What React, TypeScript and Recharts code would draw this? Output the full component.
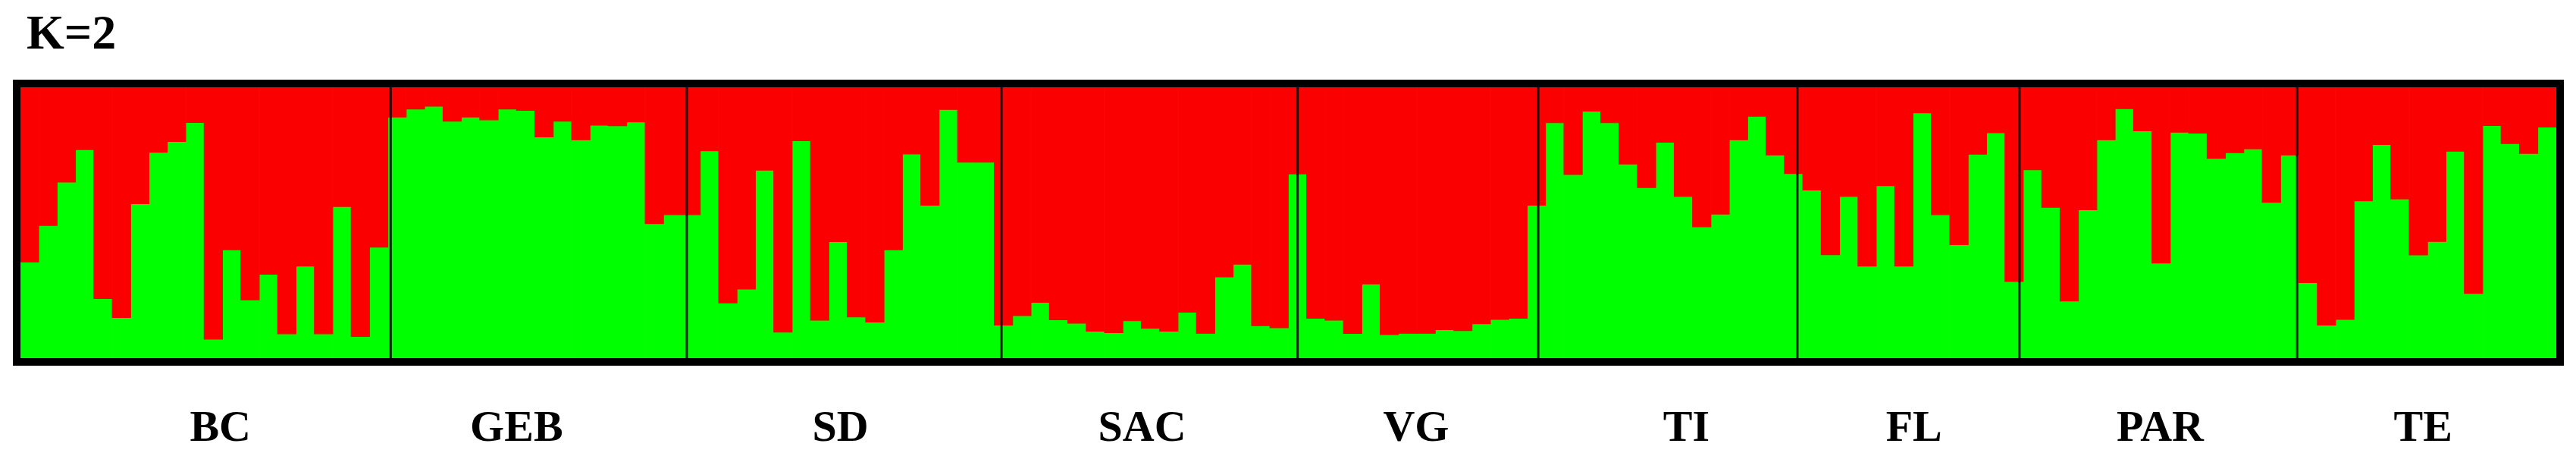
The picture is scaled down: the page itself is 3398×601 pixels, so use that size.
import React from 'react';
import { BarChart, Bar, XAxis, YAxis, ReferenceLine } from 'recharts';

// membership in cluster 1 (green) per individual; cluster 2 (red) is the rest
const bc = [0.355, 0.49, 0.65, 0.77, 0.22, 0.15, 0.57, 0.76, 0.8, 0.87, 0.07, 0.4, 0.215, 0.31, 0.09, 0.34, 0.09, 0.56, 0.08, 0.41];
const geb = [0.89, 0.92, 0.93, 0.875, 0.89, 0.88, 0.92, 0.915, 0.817, 0.875, 0.806, 0.86, 0.858, 0.872, 0.497, 0.53];
const sd = [0.53, 0.766, 0.204, 0.255, 0.694, 0.096, 0.803, 0.14, 0.43, 0.152, 0.133, 0.4, 0.754, 0.565, 0.918, 0.724, 0.724];
const sac = [0.122, 0.157, 0.206, 0.142, 0.129, 0.1, 0.094, 0.138, 0.11, 0.1, 0.17, 0.092, 0.3, 0.347, 0.12, 0.112];
const vg = [0.68, 0.147, 0.14, 0.091, 0.274, 0.087, 0.092, 0.092, 0.105, 0.102, 0.127, 0.143, 0.147];
const ti = [0.565, 0.869, 0.678, 0.912, 0.869, 0.717, 0.63, 0.797, 0.597, 0.485, 0.532, 0.806, 0.893, 0.75];
const fl = [0.682, 0.621, 0.382, 0.597, 0.34, 0.637, 0.34, 0.906, 0.53, 0.419, 0.753, 0.832];
const par = [0.283, 0.696, 0.557, 0.211, 0.548, 0.806, 0.921, 0.839, 0.351, 0.834, 0.831, 0.738, 0.759, 0.773, 0.575];
const te = [0.75, 0.279, 0.122, 0.143, 0.581, 0.789, 0.588, 0.381, 0.431, 0.764, 0.239, 0.859, 0.792, 0.756, 0.853];

const popNames = ['BC', 'GEB', 'SD', 'SAC', 'VG', 'TI', 'FL', 'PAR', 'TE'];
const pops = [bc, geb, sd, sac, vg, ti, fl, par, te];
// where each population name sits, in individual units along the plot
const labelAt = [10.8, 26.8, 44.3, 60.6, 75.4, 90.0, 102.3, 115.6, 129.8];

const rows: { id: number; green: number; red: number }[] = [];
const bounds: number[] = [];
pops.forEach((p, i) => {
  p.forEach((g) => rows.push({ id: rows.length, green: g, red: 1 - g }));
  if (i < pops.length - 1) bounds.push(rows.length);
});
const total = rows.length;

const serif = '"Liberation Serif", "Times New Roman", serif';
const GREEN = '#00ff00';
const RED = '#fa0000';

function PopTick(props: any) {
  const { x, y, index, payload } = props;
  const i = index ?? labelAt.indexOf(payload.value);
  return (
    <text x={x} y={y + 79} textAnchor="middle" fontFamily={serif} fontWeight="bold" fontSize={58} fill="#000">
      {popNames[i]}
    </text>
  );
}

export default function App() {
  return (
    <div style={{ position: 'absolute', left: 0, top: 0, width: 3398, height: 601, background: '#fff' }}>
      <div
        style={{
          position: 'absolute',
          left: 35,
          top: 11,
          fontFamily: serif,
          fontWeight: 'bold',
          fontSize: 64,
          lineHeight: '64px',
        }}
      >
        K=2
      </div>
      <div style={{ position: 'absolute', left: 27, top: 115 }}>
        <BarChart
          width={3345}
          height={486}
          data={rows}
          margin={{ top: 0, right: 0, bottom: 0, left: 0 }}
          barCategoryGap={0}
          barGap={0}
        >
          <XAxis xAxisId="ind" dataKey="id" hide />
          <XAxis
            xAxisId="pos"
            type="number"
            domain={[0, total]}
            ticks={labelAt}
            interval={0}
            axisLine={false}
            tickLine={false}
            tickSize={0}
            tickMargin={0}
            height={129}
            tick={<PopTick />}
            allowDataOverflow
          />
          <YAxis hide domain={[0, 1]} />
          <Bar xAxisId="ind" dataKey="green" stackId="q" fill={GREEN} stroke={GREEN} strokeWidth={1.2} isAnimationActive={false} />
          <Bar xAxisId="ind" dataKey="red" stackId="q" fill={RED} stroke={RED} strokeWidth={1.2} isAnimationActive={false} />
          {bounds.map((b) => (
            <ReferenceLine key={b} xAxisId="pos" x={b} stroke="#000" strokeOpacity={0.85} strokeWidth={3} />
          ))}
        </BarChart>
      </div>
      <div
        style={{
          position: 'absolute',
          left: 17,
          top: 105,
          width: 3365,
          height: 377,
          boxSizing: 'border-box',
          border: '10px solid #000',
          pointerEvents: 'none',
        }}
      />
    </div>
  );
}
